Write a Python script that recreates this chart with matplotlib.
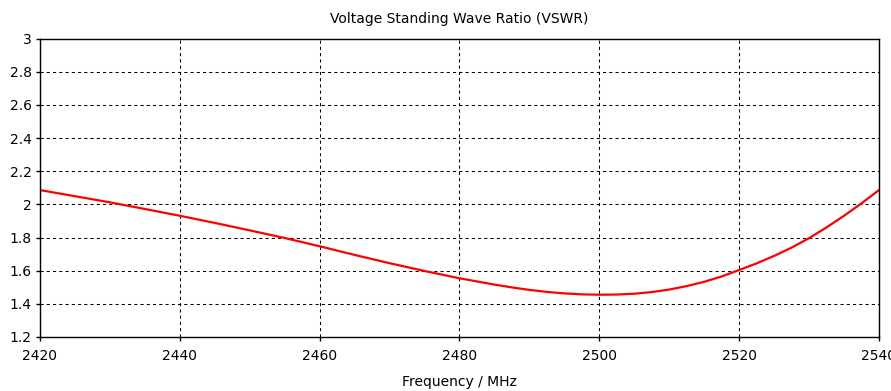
import matplotlib
matplotlib.use('Agg')
import matplotlib.pyplot as plt
import numpy as np


## data ##
freq = [2420, 2425, 2430, 2435, 2440, 2445, 2450, 2455, 2460, 2465, 2470, 2475,
        2480, 2485, 2487.5, 2490, 2492.5, 2495, 2497.5, 2500, 2502.5, 2505, 2507.5,
        2510, 2512.5, 2515, 2517.5, 2520, 2522.5, 2525, 2527.5, 2530, 2532.5,
        2535, 2537.5, 2540]
vswr = [2.086, 2.049, 2.012, 1.972, 1.931, 1.888, 1.843, 1.797, 1.747, 1.695, 1.645, 1.598,
        1.554, 1.516, 1.499, 1.484, 1.472, 1.463, 1.457, 1.455, 1.456, 1.461, 1.471,
        1.486, 1.507, 1.533, 1.565, 1.604, 1.644, 1.689, 1.739, 1.796, 1.861,
        1.931, 2.006, 2.086]
xticks = [2420, 2440, 2460, 2480, 2500, 2520, 2540]
yticks = [1.2, 1.4, 1.6, 1.8, 2, 2.2, 2.4, 2.6, 2.8, 3]


## plotting ##
fontsize = 10
plt.rcParams['font.family'] = 'DejaVu Sans'

fig = plt.figure(figsize=(8.91, 3.91), dpi=100)
ax = fig.add_axes([40 / 891, 1 - 337 / 391, 839 / 891, 298.5 / 391])

ax.plot(freq, vswr, color='#ff0000', linewidth=1.6)

ax.set_xlim(2420, 2540)
ax.set_ylim(1.2, 3)
ax.set_xticks(xticks)
ax.set_yticks(yticks)
ax.set_yticklabels([f'{t:g}' for t in yticks])
ax.tick_params(direction='out', length=3, width=1, labelsize=fontsize, colors='black', pad=6)
ax.tick_params(axis='y', pad=3)

ax.grid(True, color='black', linestyle=(0, (3, 3)), linewidth=0.75)
for s in ax.spines.values():
    s.set_linewidth(1.0)

ax.set_title('Voltage Standing Wave Ratio (VSWR)', fontsize=fontsize, pad=11)
ax.set_xlabel('Frequency / MHz', fontsize=fontsize, labelpad=8)

fig.savefig('out.png', dpi=100)
